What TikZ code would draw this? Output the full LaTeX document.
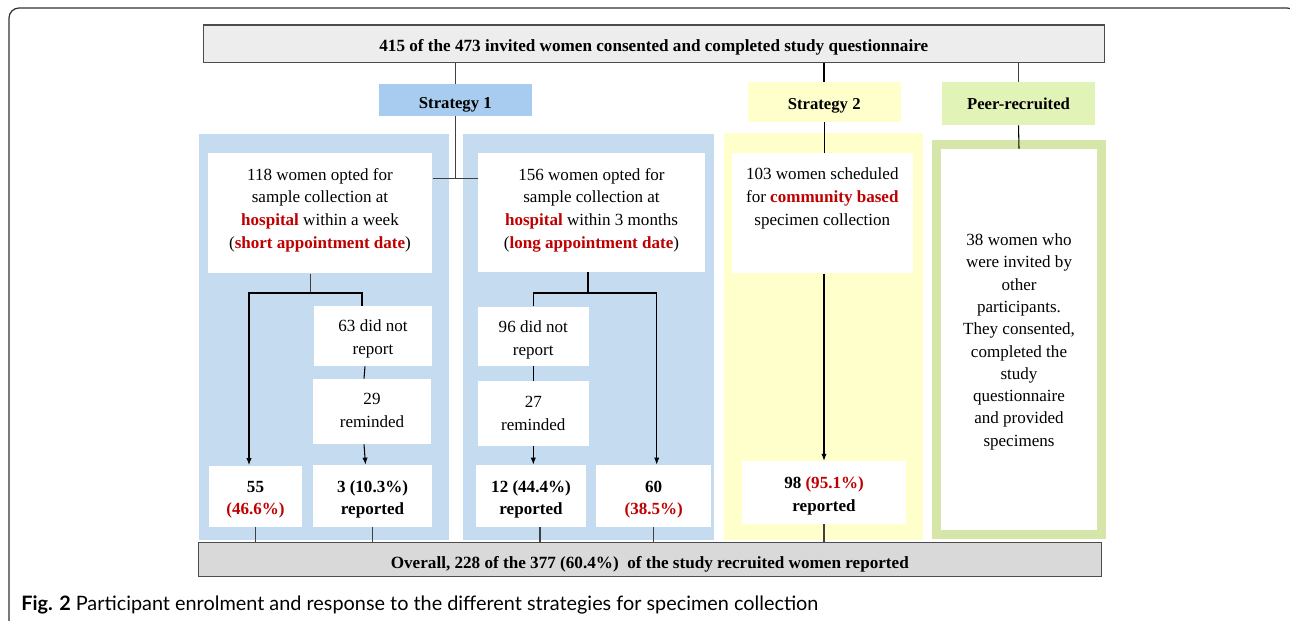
\documentclass[tikz,border=0pt]{standalone}
\usepackage{fontspec}
\setmainfont{Liberation Serif}
\newfontfamily\capfont{Lato}
\usepackage{tikz}
\usetikzlibrary{arrows.meta, positioning}
\definecolor{panelblue}{RGB}{197,220,240}
\definecolor{stratblue}{RGB}{168,204,240}
\definecolor{paleyellow}{RGB}{255,255,204}
\definecolor{peergreen}{RGB}{226,243,184}
\definecolor{framegreen}{RGB}{214,230,168}
\definecolor{topgray}{RGB}{237,237,237}
\definecolor{botgray}{RGB}{217,217,217}
\definecolor{hired}{RGB}{192,0,0}
\newcommand{\redb}[1]{\textcolor{hired}{\textbf{#1}}}

\begin{document}
\begin{tikzpicture}[x=0.02cm,y=-0.02cm,
    txt/.style={font=\fontsize{9.7}{12.9}\selectfont,align=center,inner sep=0pt},
    num/.style={font=\fontsize{9.7}{12.5}\selectfont,align=center,inner sep=0pt},
    wbox/.style={rectangle,fill=white,inner sep=0pt},
    panel/.style={rectangle,inner sep=0pt},
    head/.style={rectangle,inner sep=0pt,text depth=2.1pt,font=\fontsize{9.5}{12}\selectfont\bfseries},
    gbar/.style={rectangle,draw=black!70,line width=0.6pt,inner sep=0pt,text depth=2.1pt,font=\fontsize{9.75}{12}\selectfont\bfseries},
    link/.style={line width=0.6pt},
    arr/.style={-{Latex[length=4pt,width=3pt]},line width=0.6pt}]
    \useasboundingbox (0,0) rectangle (1290,620);

    % cornice esterna
    \draw[line width=0.7pt,black!80,rounded corners=0.2cm] (9,640) -- (9,8) -- (1297,8) -- (1297,640);

    % Questionario
    \node[gbar,fill=topgray,text height=11.3pt,minimum width=18.03cm,minimum height=0.75cm] (top) at (653.8,43.75) {415 of the 473 invited women consented and completed study questionnaire};

    % Strategie
    \node[head,fill=stratblue,text height=11.6pt,minimum width=3.05cm,minimum height=0.63cm] (s1) at (455.3,99.9) {Strategy 1};
    \node[head,fill=paleyellow,text height=10.8pt,minimum width=3.06cm,minimum height=0.79cm] (s2) at (824.2,101.9) {Strategy 2};
    \node[head,fill=peergreen,text height=9.3pt,minimum width=3.06cm,minimum height=0.86cm] (peer) at (1018.5,103.5) {Peer-recruited};

    % Pannelli
    \node[panel,fill=panelblue,minimum width=5cm,minimum height=8.12cm] (pA) at (324,337) {};
    \node[panel,fill=panelblue,minimum width=5.04cm,minimum height=8.12cm] (pB) at (588.5,337) {};
    \node[panel,fill=paleyellow,minimum width=3.98cm,minimum height=8.14cm] (pC) at (823.5,336.5) {};

    % Strategia 1, appuntamento breve
    \node[wbox,minimum width=4.5cm,minimum height=2.4cm] (a118) at (320,213.3) {};
    \node[txt] (a118t) at (a118.north) [below=0.3cm] {118 women opted for\\ sample collection at\\ \redb{hospital} within a week\\ (\redb{short appointment date})};
    \node[wbox,minimum width=2.36cm,minimum height=1.2cm] (a63) at (373,336) {};
    \node[txt] (a63t) at (a63.north) [below=0.28cm] {63 did not\\ report};
    \node[wbox,minimum width=2.36cm,minimum height=1.3cm] (a29) at (372,411.5) {};
    \node[txt] (a29t) at (a29.north) [below=0.29cm] {29\\ reminded};
    \node[wbox,minimum width=1.88cm,minimum height=1.23cm] (n55) at (255.5,496.3) {};
    \node[num] (n55t) at (n55.north) [below=0.31cm] {\textbf{55}\\ \redb{(46.6\%)}};
    \node[wbox,minimum width=2.38cm,minimum height=1.24cm] (a3) at (372.5,496) {};
    \node[num] (a3t) at (a3.north) [below=0.32cm] {\textbf{3 (10.3\%)}\\ \textbf{reported}};

    % Strategia 1, appuntamento lungo
    \node[wbox,minimum width=4.54cm,minimum height=2.38cm] (b156) at (591.5,212.5) {};
    \node[txt] (b156t) at (b156.north) [below=0.3cm] {156 women opted for\\ sample collection at\\ \redb{hospital} within 3 months\\ (\redb{long appointment date})};
    \node[wbox,minimum width=2.21cm,minimum height=1.19cm] (b96) at (533.3,336.3) {};
    \node[txt] (b96t) at (b96.north) [below=0.29cm] {96 did not\\ report};
    \node[wbox,minimum width=2.21cm,minimum height=1.29cm] (b27) at (533.3,413.3) {};
    \node[txt] (b27t) at (b27.north) [below=0.31cm] {27\\ reminded};
    \node[wbox,minimum width=2.2cm,minimum height=1.24cm] (b12) at (531,496) {};
    \node[num] (b12t) at (b12.north) [below=0.32cm] {\textbf{12 (44.4\%)}\\ \textbf{reported}};
    \node[wbox,minimum width=2.3cm,minimum height=1.24cm] (n60) at (653.7,496) {};
    \node[num] (n60t) at (n60.north) [below=0.32cm] {\textbf{60}\\ \redb{(38.5\%)}};

    % Strategia 2
    \node[wbox,minimum width=3.61cm,minimum height=2.41cm] (c103) at (822.3,213.2) {};
    \node[txt] (c103t) at (c103.north) [below=0.3cm] {103 women scheduled\\ for \redb{community based}\\ specimen collection};
    \node[wbox,minimum width=3.28cm,minimum height=1.25cm] (c98) at (824,492.4) {};
    \node[num,font=\fontsize{9.7}{12.9}\selectfont] (c98t) at (c98.north) [below=0.32cm] {\textbf{98} \redb{(95.1\%)}\\ \textbf{reported}};

    % Peer-recruited
    \node[wbox,draw=framegreen,line width=0.18cm,minimum width=3.3cm,minimum height=7.81cm] (d38) at (1019,339.75) {};
    \node[txt,font=\fontsize{9.7}{12.7}\selectfont] (d38t) at (d38) [yshift=-0.04cm] {38 women who\\ were invited by\\ other\\ participants.\\ They consented,\\ completed the\\ study\\ questionnaire\\ and provided\\ specimens};

    % Totale
    \node[gbar,fill=botgray,text height=12.4pt,minimum width=18.07cm,minimum height=0.69cm] (overall) at (649.8,559.4) {Overall, 228 of the 377 (60.4\%)\ \ of the study recruited women reported};

    % Didascalia
    \node[anchor=west,inner sep=0pt,font=\capfont\fontsize{11.3}{13}\selectfont] (cap) at (21,605) {\textbf{Fig. 2} Participant enrolment and response to the different strategies for specimen collection};

    % Connessioni
    \draw[link,black!75] (top.south -| s1) -- (s1.north);
    \draw[black,line width=1.1pt] (top.south -| s2) -- (s2.north);
    \draw[link,black!75] (top.south -| peer) -- (peer.north);
    \coordinate (j1) at (455.3,178.3);
    \draw[link,black!75] (s1.south) -- (j1);
    \draw[link,black!75] (j1 -| a118.east) -- (j1 -| b156.west);
    \draw[link] (s2.south) -- (s2.south |- c103.north);
    \draw[link] (peer.south) -- ([yshift=-0.17cm]d38.north);

    \coordinate (jA) at (310.5,293);
    \draw[link,black!75] (a118.south -| jA) -- (jA);
    \draw[arr] (jA) -| ([xshift=-0.13cm]n55.north);
    \draw[link] (jA) -| ([xshift=-0.22cm]a63.north);
    \draw[link] ([xshift=-0.16cm]a63.south) -- ([xshift=-0.16cm]a29.north);
    \draw[arr] ([xshift=-0.16cm]a29.south) -- ([xshift=-0.14cm]a3.north);

    \coordinate (jB) at (588,293);
    \draw[link] (b156.south -| jB) -- (jB);
    \draw[link] (jB) -| (b96.north);
    \draw[arr] (jB) -| ([xshift=0.06cm]n60.north);
    \draw[link] (b96) -- (b27);
    \draw[arr] (b27.south) -- (b27.south |- b12.north);

    \draw[arr] (c103.south -| c98) -- (c98.north);

    \foreach \n in {n55,a3,n60,c98}
        \draw[link,black!75] (\n.south) -- (\n.south |- overall.north);
    \draw[link,black!75] ([xshift=0.18cm]b12.south) -- ([xshift=0.18cm]b12.south |- overall.north);
\end{tikzpicture}
\end{document}
